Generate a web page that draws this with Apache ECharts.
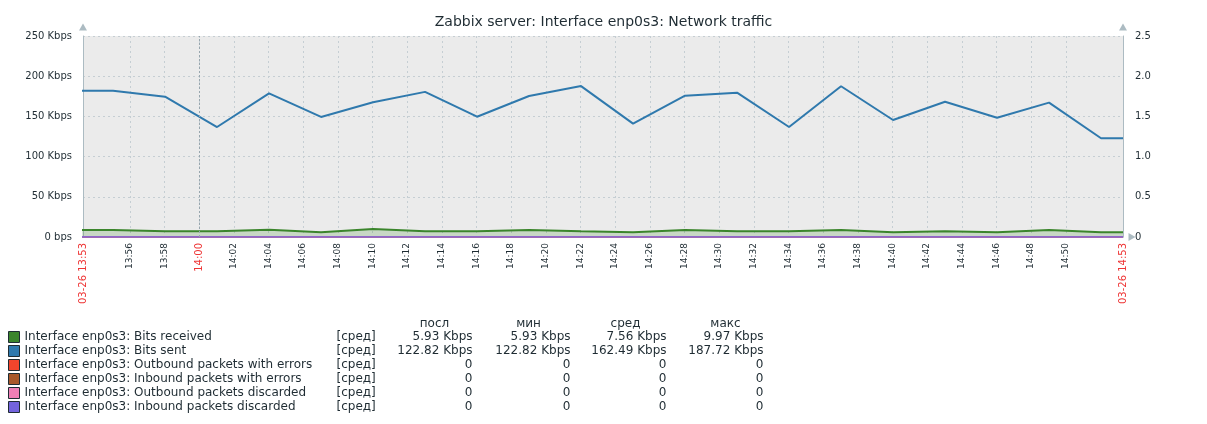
<!DOCTYPE html>
<html lang="ru">
<head>
    <meta charset="UTF-8">
    <title>Network traffic</title>
    <script type="text/javascript" src="https://cdn.jsdelivr.net/npm/echarts@6/dist/echarts.min.js"></script>
</head>
<body style="margin:0">
    <div id="main" style="width: 1207px; height: 424px;"></div>
    <script type="text/javascript">
        var chartTitle = 'Zabbix server: Interface enp0s3: Network traffic';
        var rangeStart = '13:53:18';
        var rangeEnd = '14:53:18';
        var startLabel = '03-26 13:53';
        var endLabel = '03-26 14:53';
        var tickLabels = ['13:56', '13:58', '14:00', '14:02', '14:04', '14:06', '14:08', '14:10', '14:12', '14:14',
            '14:16', '14:18', '14:20', '14:22', '14:24', '14:26', '14:28', '14:30', '14:32', '14:34',
            '14:36', '14:38', '14:40', '14:42', '14:44', '14:46', '14:48', '14:50'];
        var hourLabel = '14:00';

        // sample times (3 min step), first one is before the visible range, last one is the range end
        var times = ['13:52:02', '13:55:02', '13:58:02', '14:01:02', '14:04:02', '14:07:02', '14:10:02', '14:13:02',
            '14:16:02', '14:19:02', '14:22:02', '14:25:02', '14:28:02', '14:31:02', '14:34:02', '14:37:02',
            '14:40:02', '14:43:02', '14:46:02', '14:49:02', '14:52:02', '14:53:18'];
        // Kbps
        var bitsReceived = [8.83, 8.83, 7.17, 7.17, 9.1, 5.93, 9.97, 7.17, 7.17, 8.83, 7.17,
            5.93, 8.83, 7.17, 7.17, 8.83, 5.93, 7.17, 5.93, 8.83, 5.93, 5.93];
        var bitsSent = [182, 182, 174.5, 136.8, 178.7, 149.3, 167.5, 180.5, 149.6, 175.4, 187.72,
            141, 175.8, 179.5, 136.8, 187.5, 145.5, 168.3, 148.4, 167.1, 122.82, 122.82];
        var outErrors = [0, 0, 0, 0, 0, 0, 0, 0, 0, 0, 0, 0, 0, 0, 0, 0, 0, 0, 0, 0, 0, 0];
        var inErrors = [0, 0, 0, 0, 0, 0, 0, 0, 0, 0, 0, 0, 0, 0, 0, 0, 0, 0, 0, 0, 0, 0];
        var outDiscarded = [0, 0, 0, 0, 0, 0, 0, 0, 0, 0, 0, 0, 0, 0, 0, 0, 0, 0, 0, 0, 0, 0];
        var inDiscarded = [0, 0, 0, 0, 0, 0, 0, 0, 0, 0, 0, 0, 0, 0, 0, 0, 0, 0, 0, 0, 0, 0];

        var seriesNames = ['Interface enp0s3: Bits received', 'Interface enp0s3: Bits sent',
            'Interface enp0s3: Outbound packets with errors', 'Interface enp0s3: Inbound packets with errors',
            'Interface enp0s3: Outbound packets discarded', 'Interface enp0s3: Inbound packets discarded'];
        var seriesColors = ['#3b852c', '#2f79ad', '#f2452c', '#a8582a', '#ef7fb5', '#7363dc'];
        var funcLabel = '[сред]';
        var statHeaders = ['посл', 'мин', 'сред', 'макс'];
        var lastVals = ['5.93 Kbps', '122.82 Kbps', '0', '0', '0', '0'];
        var minVals = ['5.93 Kbps', '122.82 Kbps', '0', '0', '0', '0'];
        var avgVals = ['7.56 Kbps', '162.49 Kbps', '0', '0', '0', '0'];
        var maxVals = ['9.97 Kbps', '187.72 Kbps', '0', '0', '0', '0'];

        var font = 'DejaVu Sans';
        var textColor = '#1f2c33';
        var gridColor = '#c5ced3';
        var axisColor = '#acbbc2';

        function toSec(t) {
            var p = t.split(':');
            return (+p[0]) * 3600 + (+p[1]) * 60 + (p[2] ? +p[2] : 0);
        }
        function pairs(vals) {
            return times.map(function (t, i) { return [toSec(t), vals[i]]; });
        }

        var xMin = toSec(rangeStart);
        var xMax = toSec(rangeEnd);
        var tickVals = tickLabels.map(toSec);
        var labelVals = [xMin].concat(tickVals, [xMax]);

        function lineSeries(idx, vals, yIndex, width) {
            return {
                name: seriesNames[idx],
                type: 'line',
                yAxisIndex: yIndex,
                data: pairs(vals),
                symbol: 'none',
                animation: false,
                itemStyle: { color: seriesColors[idx] },
                lineStyle: { color: seriesColors[idx], width: width }
            };
        }

        function txt(w, align) {
            return { width: w, align: align, fontFamily: font, fontSize: 12, fontWeight: 'normal', color: textColor, lineHeight: 14 };
        }

        var received = lineSeries(0, bitsReceived, 0, 2);
        received.areaStyle = { color: seriesColors[0], opacity: 0.2 };
        var sent = lineSeries(1, bitsSent, 0, 2);
        sent.markLine = {
            silent: true,
            symbol: 'none',
            label: { show: false },
            lineStyle: { color: '#98a6ae', type: [2, 2], width: 1 },
            data: [{ xAxis: toSec(hourLabel) }]
        };

        var myChart = echarts.init(document.getElementById('main'));
        var option = {
            backgroundColor: '#ffffff',
            textStyle: { fontFamily: font },
            title: [{
                text: chartTitle,
                left: 'center',
                top: 10,
                textStyle: { fontFamily: font, fontSize: 14, fontWeight: 'normal', color: textColor }
            }, {
                text: '{a|' + statHeaders[0] + '}{b|' + statHeaders[1] + '}{c|' + statHeaders[2] + '}{d|' + statHeaders[3] + '}',
                left: 386,
                top: 317,
                padding: 0,
                textStyle: {
                    fontWeight: 'normal',
                    rich: {
                        a: txt(97, 'center'),
                        b: txt(91, 'center'),
                        c: txt(103, 'center'),
                        d: txt(97, 'center')
                    }
                }
            }],
            legend: {
                orient: 'vertical',
                left: 8,
                top: 331,
                padding: 0,
                icon: 'rect',
                itemWidth: 11,
                itemHeight: 11,
                itemGap: 2,
                selectedMode: false,
                data: seriesNames,
                itemStyle: { borderColor: textColor, borderWidth: 1 },
                formatter: function (name) {
                    var i = seriesNames.indexOf(name);
                    return '{n|' + name + '}{f|' + funcLabel + '}{a|' + lastVals[i] + '}{b|' + minVals[i] +
                        '}{c|' + avgVals[i] + '}{d|' + maxVals[i] + '}';
                },
                textStyle: {
                    fontFamily: font, fontSize: 12, color: textColor,
                    rich: {
                        n: txt(312, 'left'),
                        f: txt(40, 'left'),
                        a: txt(96, 'right'),
                        b: txt(98, 'right'),
                        c: txt(96, 'right'),
                        d: txt(97, 'right')
                    }
                }
            },
            grid: {
                left: 83,
                right: 84,
                top: 36,
                bottom: 187,
                show: true,
                backgroundColor: '#ebebeb',
                borderWidth: 0
            },
            xAxis: {
                type: 'value',
                min: xMin,
                max: xMax,
                axisLine: {
                    show: true,
                    lineStyle: { color: axisColor },
                    symbol: ['none', 'triangle'],
                    symbolSize: [8, 7],
                    symbolOffset: [0, 9]
                },
                axisTick: { show: false, customValues: tickVals },
                splitLine: { show: true, lineStyle: { color: gridColor, type: [2, 3] } },
                axisLabel: {
                    customValues: labelVals,
                    rotate: 90,
                    margin: 6,
                    hideOverlap: false,
                    showMinLabel: true,
                    showMaxLabel: true,
                    formatter: function (v) {
                        if (v === xMin) return '{r|' + startLabel + '}';
                        if (v === xMax) return '{r|' + endLabel + '}';
                        var i = tickVals.indexOf(v);
                        var lab = tickLabels[i];
                        return lab === hourLabel ? '{r|' + lab + '}' : '{k|' + lab + '}';
                    },
                    rich: {
                        r: { color: '#ee3535', fontSize: 10, fontFamily: font },
                        k: { color: textColor, fontSize: 9, fontFamily: font }
                    }
                }
            },
            yAxis: [{
                type: 'value',
                position: 'left',
                min: 0,
                max: 250,
                interval: 50,
                axisLine: {
                    show: true,
                    lineStyle: { color: axisColor },
                    symbol: ['none', 'triangle'],
                    symbolSize: [8, 7],
                    symbolOffset: [0, 9]
                },
                axisTick: { show: false },
                splitLine: { show: true, lineStyle: { color: gridColor, type: [2, 3] } },
                axisLabel: {
                    margin: 11,
                    color: textColor,
                    fontSize: 10,
                    fontFamily: font,
                    formatter: function (v) { return v === 0 ? '0 bps' : v + ' Kbps'; }
                }
            }, {
                type: 'value',
                position: 'right',
                min: 0,
                max: 2.5,
                interval: 0.5,
                axisLine: {
                    show: true,
                    lineStyle: { color: axisColor },
                    symbol: ['none', 'triangle'],
                    symbolSize: [8, 7],
                    symbolOffset: [0, 9]
                },
                axisTick: { show: false },
                splitLine: { show: false },
                axisLabel: {
                    margin: 12,
                    color: textColor,
                    fontSize: 10,
                    fontFamily: font,
                    formatter: function (v) { return v === 0 ? '0' : v.toFixed(1); }
                }
            }],
            series: [
                received,
                sent,
                lineSeries(2, outErrors, 1, 1.5),
                lineSeries(3, inErrors, 1, 1.5),
                lineSeries(4, outDiscarded, 1, 1.5),
                lineSeries(5, inDiscarded, 1, 1.5)
            ]
        };
        myChart.setOption(option);
    </script>
</body>
</html>
